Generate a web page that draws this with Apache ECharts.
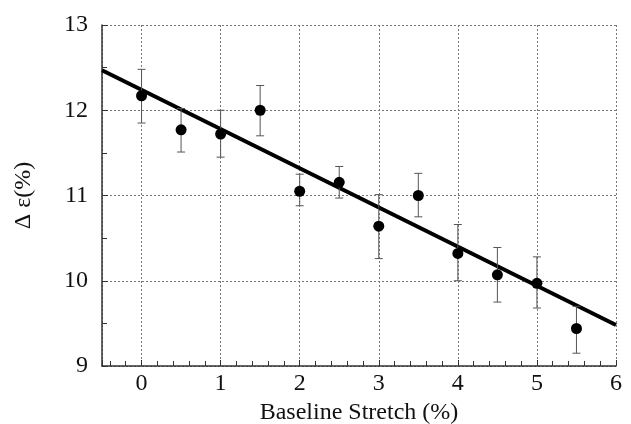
<!DOCTYPE html>
<html>
<head>
<meta charset="utf-8">
<script src="https://cdn.jsdelivr.net/npm/echarts@6/dist/echarts.min.js"></script>
<style>
  html, body { margin: 0; padding: 0; background: #fff; }
  #chart { width: 631px; height: 424px; }
</style>
</head>
<body>
<div id="chart"></div>
<script>
var stretch = [0, 0.5, 1, 1.5, 2, 2.5, 3, 3.5, 4, 4.5, 5, 5.5];
var deltaEps = [12.17, 11.77, 11.72, 12.0, 11.05, 11.155, 10.64, 11.0, 10.32, 10.07, 9.97, 9.44];
var errHigh = [12.48, 12.02, 12.0, 12.29, 11.25, 11.34, 11.01, 11.26, 10.66, 10.39, 10.28, 9.70];
var errLow = [11.85, 11.51, 11.45, 11.70, 10.88, 10.97, 10.26, 10.75, 10.0, 9.75, 9.68, 9.15];

// straight fit line end points
var fitX = [-0.5, 6];
var fitY = [12.47, 9.48];

var serif = "'Liberation Serif', 'Times New Roman', serif";

var chart = echarts.init(document.getElementById('chart'));

var points = stretch.map(function (x, i) { return [x, deltaEps[i]]; });
var bars = stretch.map(function (x, i) { return [x, errLow[i], errHigh[i]]; });
var fit = fitX.map(function (x, i) { return [x, fitY[i]]; });

var gridLine = { show: true, lineStyle: { color: '#777', type: [2, 2], width: 1 } };

chart.setOption({
    animation: false,
    backgroundColor: '#fff',
    grid: { left: 102, right: 15, top: 25, bottom: 58, outerBoundsMode: 'none', containLabel: false },
    xAxis: {
        type: 'value',
        min: -0.5,
        max: 6,
        name: 'Baseline Stretch (%)',
        nameLocation: 'middle',
        nameGap: 34,
        nameTextStyle: { fontFamily: serif, fontSize: 24, color: '#111' },
        axisLine: { show: true, onZero: false, lineStyle: { color: '#333', width: 1.5 } },
        axisTick: { show: true, inside: true, length: 6, lineStyle: { color: '#333' } },
        minorTick: { show: true, splitNumber: 5, length: 5, lineStyle: { color: '#333' } },
        axisLabel: {
            fontFamily: serif, fontSize: 24, color: '#111', margin: 6,
            formatter: function (v) { return Math.round(v) === v ? String(v) : ''; }
        },
        splitLine: gridLine
    },
    yAxis: {
        type: 'value',
        min: 9,
        max: 13,
        interval: 1,
        name: 'Δ ε(%)',
        nameLocation: 'middle',
        nameGap: 66,
        nameTextStyle: { fontFamily: serif, fontSize: 24, color: '#111' },
        axisLine: { show: true, onZero: false, lineStyle: { color: '#333', width: 1.5 } },
        axisTick: { show: true, inside: true, length: 6, lineStyle: { color: '#333' } },
        minorTick: { show: true, splitNumber: 2, length: 5, lineStyle: { color: '#333' } },
        axisLabel: { fontFamily: serif, fontSize: 24, color: '#111', margin: 14 },
        splitLine: gridLine
    },
    series: [
        {
            type: 'line',
            data: fit,
            showSymbol: false,
            lineStyle: { color: '#000', width: 4 },
            z: 2
        },
        {
            type: 'custom',
            data: bars,
            z: 3,
            renderItem: function (params, api) {
                var x = api.value(0);
                var lo = api.coord([x, api.value(1)]);
                var hi = api.coord([x, api.value(2)]);
                var w = 4;
                var st = { stroke: '#555', lineWidth: 1 };
                return {
                    type: 'group',
                    children: [
                        { type: 'line', shape: { x1: lo[0], y1: lo[1], x2: hi[0], y2: hi[1] }, style: st },
                        { type: 'line', shape: { x1: lo[0] - w, y1: lo[1], x2: lo[0] + w, y2: lo[1] }, style: st },
                        { type: 'line', shape: { x1: hi[0] - w, y1: hi[1], x2: hi[0] + w, y2: hi[1] }, style: st }
                    ]
                };
            }
        },
        {
            type: 'scatter',
            data: points,
            symbol: 'circle',
            symbolSize: 11,
            itemStyle: { color: '#000', opacity: 1 },
            z: 4
        }
    ]
});
</script>
</body>
</html>
